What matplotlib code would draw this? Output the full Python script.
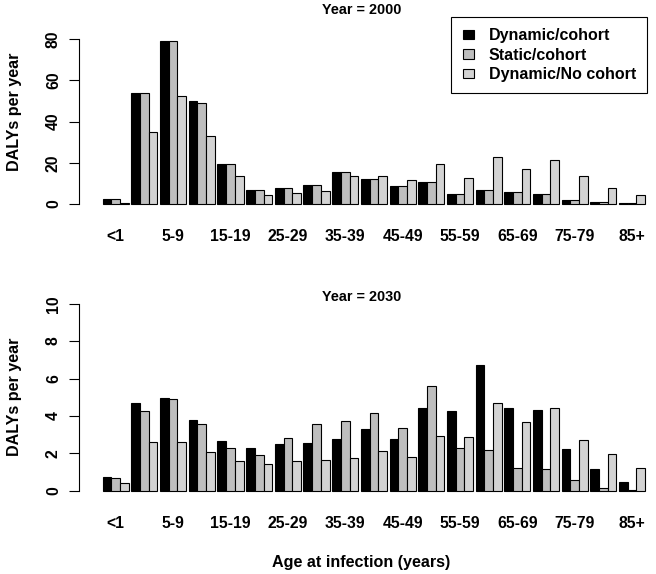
import numpy as np
import matplotlib
matplotlib.use("Agg")
import matplotlib.pyplot as plt

plt.rcParams['font.family'] = ['Liberation Sans', 'DejaVu Sans']
plt.rcParams['font.weight'] = 'bold'

# age groups and DALYs per year
ages = ['<1', '1-4', '5-9', '10-14', '15-19', '20-24', '25-29', '30-34', '35-39', '40-44',
        '45-49', '50-54', '55-59', '60-64', '65-69', '70-74', '75-79', '80-84', '85+']
series = ['Dynamic/cohort', 'Static/cohort', 'Dynamic/No cohort']
colors = ['black', '#BEBEBE', '#D3D3D3']

dyn_2000 = [2.3, 53.8, 79.0, 49.9, 19.6, 7.0, 8.0, 9.4, 15.7, 12.3, 8.9, 10.9, 4.7, 7.0, 6.0, 4.7, 2.1, 1.2, 0.7]
sta_2000 = [2.3, 53.8, 79.0, 49.2, 19.6, 7.0, 8.0, 9.4, 15.7, 12.3, 8.9, 10.9, 4.7, 7.0, 6.0, 4.7, 2.1, 1.2, 0.4]
noc_2000 = [0.7, 34.7, 52.2, 33.2, 13.5, 4.6, 5.5, 6.5, 13.8, 13.8, 11.4, 19.6, 12.8, 23.0, 17.2, 21.1, 13.8, 8.0, 4.6]

dyn_2030 = [0.73, 4.70, 4.97, 3.79, 2.66, 2.29, 2.50, 2.55, 2.77, 3.30, 2.77, 4.43, 4.27, 6.73, 4.43, 4.32, 2.23, 1.16, 0.47]
sta_2030 = [0.66, 4.25, 4.91, 3.56, 2.27, 1.90, 2.80, 3.56, 3.72, 4.14, 3.34, 5.59, 2.27, 2.16, 1.20, 1.14, 0.56, 0.13, 0.04]
noc_2030 = [0.41, 2.59, 2.59, 2.06, 1.57, 1.41, 1.57, 1.63, 1.73, 2.11, 1.79, 2.91, 2.86, 4.68, 3.66, 4.43, 2.70, 1.95, 1.20]

W, H = 656, 574
fig = plt.figure(figsize=(W / 100, H / 100), dpi=100)

def add_axes_px(left, right, top, bottom):
    return fig.add_axes([left / W, 1 - bottom / H, (right - left) / W, (bottom - top) / H])

def panel(ax, data, ymax, step, ylim, show_legend=False):
    gap, pitch = 0.3, 3.3
    idx = np.arange(len(ages))
    for s, vals in enumerate(data):
        ax.bar(gap + pitch * idx + s, vals, width=1, align='edge', color=colors[s],
               edgecolor='black', linewidth=0.8, label=series[s])
    ax.set_xlim(-2.43, 63.5)
    ax.set_ylim(*ylim)
    for sp in ['top', 'right', 'bottom']:
        ax.spines[sp].set_visible(False)
    ax.spines['left'].set_bounds(0, ymax)
    ax.spines['left'].set_linewidth(0.8)
    ax.set_yticks(np.arange(0, ymax + step / 2, step))
    ax.tick_params(axis='y', direction='out', length=7, width=0.8, pad=6, labelsize=11.3)
    for lab in ax.get_yticklabels():
        lab.set_rotation(90)
        lab.set_va('center')
    centers = gap + pitch * idx + 1.5
    ax.set_xticks(centers[::2])
    ax.set_xticklabels(ages[::2])
    ax.tick_params(axis='x', length=0, pad=14, labelsize=11.3)
    if show_legend:
        leg = ax.legend(loc='upper right', bbox_to_anchor=(647 / W, 1 - 17 / H),
                        bbox_transform=fig.transFigure, fontsize=11.5, frameon=True,
                        fancybox=False, edgecolor='black', framealpha=1,
                        handlelength=0.73, handleheight=0.5, handletextpad=0.9,
                        labelspacing=0.28, borderpad=0.7, borderaxespad=0)
        leg.get_frame().set_linewidth(0.8)

# top panel: 0 at y=204 px, 80 at y=39 px
ppu = (204 - 39) / 80
ax1 = add_axes_px(79, 652, 30, 210)
panel(ax1, [dyn_2000, sta_2000, noc_2000], 80, 20,
      (-(210 - 204) / ppu, (204 - 30) / ppu), show_legend=True)

# bottom panel: 0 at y=490.7 px, 10 at y=303.7 px
ppu2 = (490.7 - 303.7) / 10
ax2 = add_axes_px(79, 652, 296, 497)
panel(ax2, [dyn_2030, sta_2030, noc_2030], 10, 2,
      (-(497 - 490.7) / ppu2, (490.7 - 296) / ppu2))

fig.text(361.7 / W, 1 - 10 / H, 'Year = 2000', ha='center', va='center', fontsize=10.4)
fig.text(361.7 / W, 1 - 297 / H, 'Year = 2030', ha='center', va='center', fontsize=10.4)
fig.text(15 / W, 1 - 112 / H, 'DALYs per year', rotation=90, ha='center', va='center', fontsize=11.6)
fig.text(15 / W, 1 - 397 / H, 'DALYs per year', rotation=90, ha='center', va='center', fontsize=11.6)
fig.text(361 / W, 1 - 562 / H, 'Age at infection (years)', ha='center', va='center', fontsize=11.6)

fig.savefig('out.png', dpi=100, facecolor='white')
